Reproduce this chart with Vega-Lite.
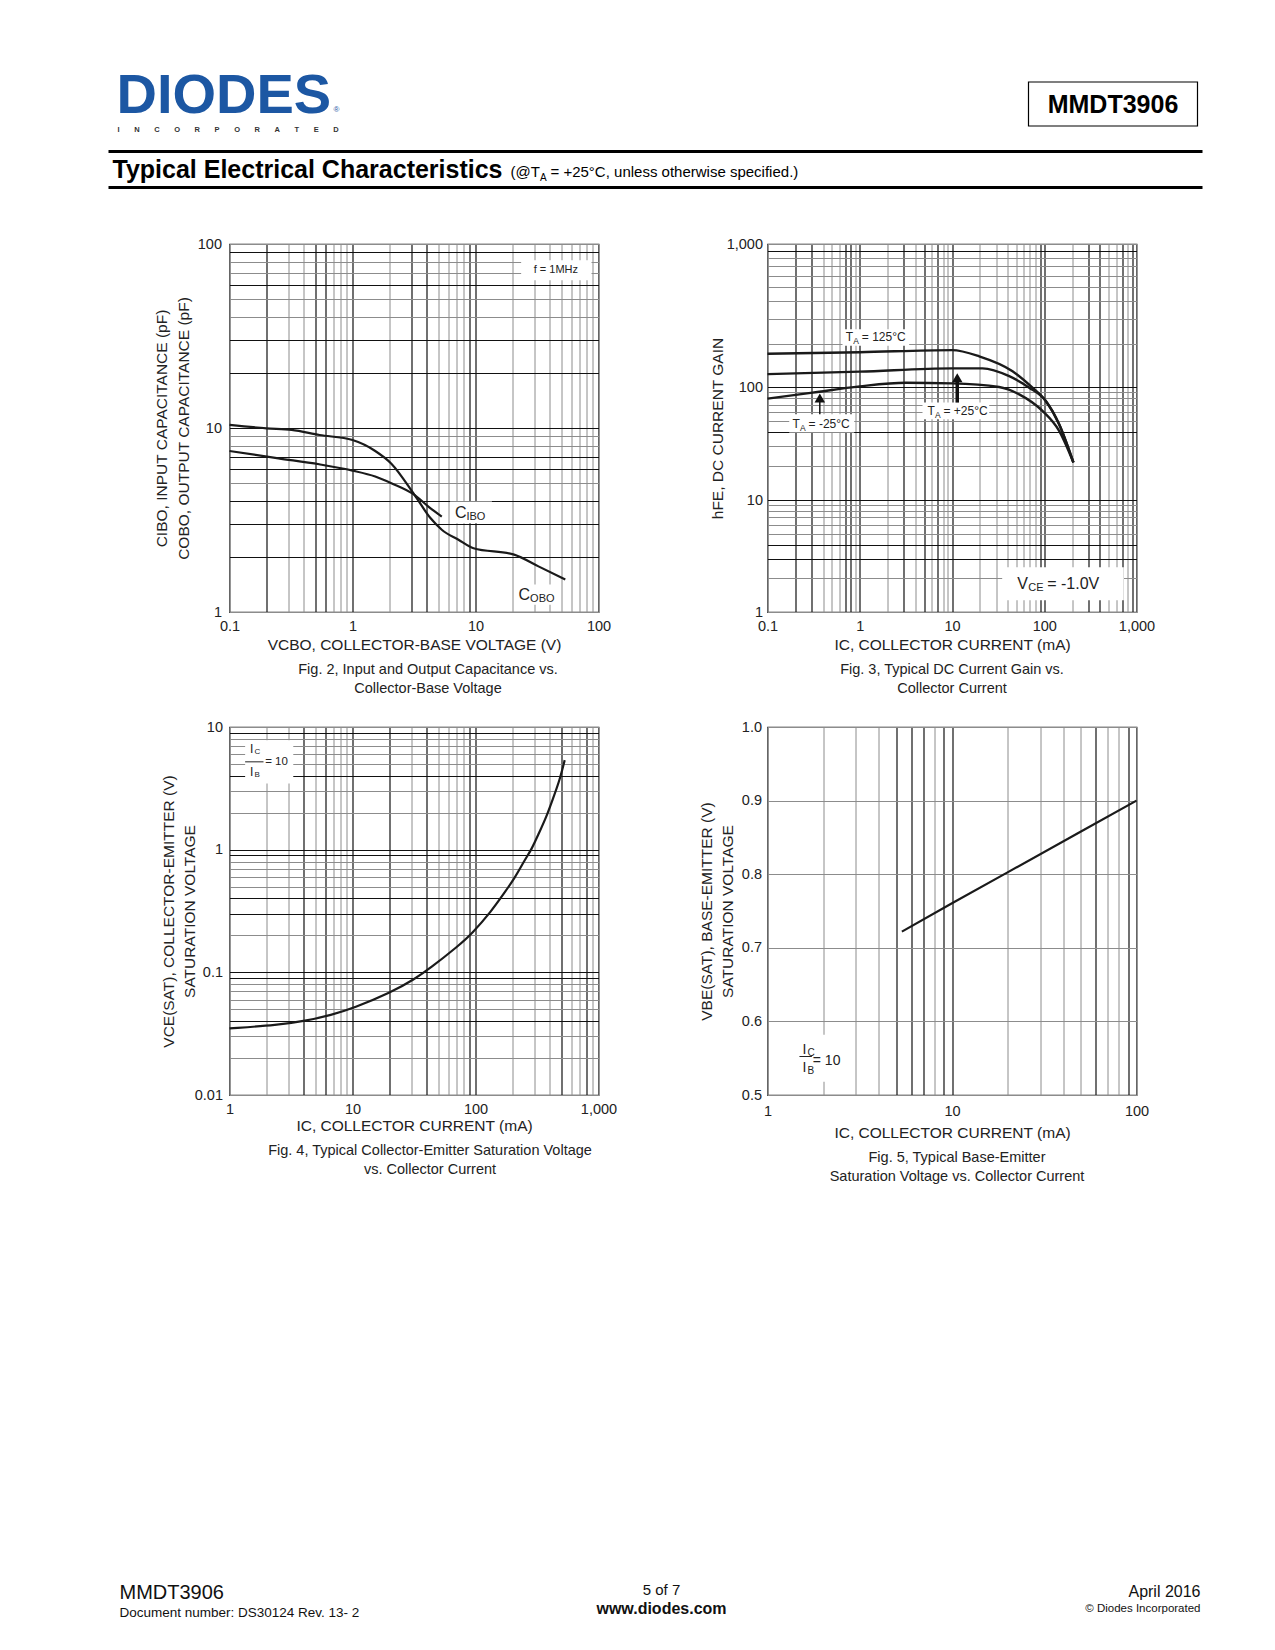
{
  "$schema": "https://vega.github.io/schema/vega-lite/v6.json",
  "background": "white",
  "padding": {"left": 106.5, "top": 50, "right": 70, "bottom": 20},
  "config": {
    "font": "Liberation Sans",
    "view": {"stroke": "#111111", "strokeWidth": 1.2},
    "axis": {"ticks": false, "domain": false, "grid": true, "labelFont": "Liberation Sans", "labelFontSize": 14.5, "labelColor": "#222222", "labelOverlap": false, "labelFlush": false, "labelBound": false, "titleFont": "Liberation Sans", "titleFontSize": 15.5, "titleFontWeight": "normal", "titleColor": "#222222", "gridOpacity": 1},
    "title": {"orient": "bottom", "anchor": "middle", "font": "Liberation Sans", "fontSize": 14.5, "fontWeight": "normal", "color": "#222222", "lineHeight": 18.5, "offset": 10},
    "text": {"color": "#222222", "font": "Liberation Sans"}
  },
  "datasets": {
    "one": [{"k": 1}],
    "fig2": [
      {"curve": "COBO", "v": 0.1, "c": 10.4}, {"curve": "COBO", "v": 0.2, "c": 9.96}, {"curve": "COBO", "v": 0.32, "c": 9.76}, {"curve": "COBO", "v": 0.54, "c": 9.16}, {"curve": "COBO", "v": 1, "c": 8.6}, {"curve": "COBO", "v": 1.53, "c": 7.5}, {"curve": "COBO", "v": 2.07, "c": 6.4}, {"curve": "COBO", "v": 3.19, "c": 4.33}, {"curve": "COBO", "v": 4.3, "c": 3.24}, {"curve": "COBO", "v": 5.32, "c": 2.8}, {"curve": "COBO", "v": 7.27, "c": 2.47}, {"curve": "COBO", "v": 9.64, "c": 2.22}, {"curve": "COBO", "v": 20.6, "c": 2.05}, {"curve": "COBO", "v": 32.5, "c": 1.77}, {"curve": "COBO", "v": 53.7, "c": 1.5},
      {"curve": "CIBO", "v": 0.1, "c": 7.5}, {"curve": "CIBO", "v": 0.25, "c": 6.84}, {"curve": "CIBO", "v": 0.535, "c": 6.35}, {"curve": "CIBO", "v": 1, "c": 5.87}, {"curve": "CIBO", "v": 1.53, "c": 5.45}, {"curve": "CIBO", "v": 2.07, "c": 5.01}, {"curve": "CIBO", "v": 3.19, "c": 4.33}, {"curve": "CIBO", "v": 4.14, "c": 3.74}, {"curve": "CIBO", "v": 5.32, "c": 3.3}
    ],
    "fig3": [
      {"ta": "125", "ic": 0.1, "hfe": 171}, {"ta": "125", "ic": 1, "hfe": 175}, {"ta": "125", "ic": 10, "hfe": 181}, {"ta": "125", "ic": 19.7, "hfe": 164}, {"ta": "125", "ic": 45.3, "hfe": 129}, {"ta": "125", "ic": 74.6, "hfe": 98.7}, {"ta": "125", "ic": 104, "hfe": 75.2}, {"ta": "125", "ic": 145, "hfe": 46.9}, {"ta": "125", "ic": 207, "hfe": 21.5},
      {"ta": "25", "ic": 0.1, "hfe": 123}, {"ta": "25", "ic": 1, "hfe": 128}, {"ta": "25", "ic": 10, "hfe": 135}, {"ta": "25", "ic": 21.4, "hfe": 135}, {"ta": "25", "ic": 41.7, "hfe": 119}, {"ta": "25", "ic": 68.7, "hfe": 98.7}, {"ta": "25", "ic": 104, "hfe": 75.2}, {"ta": "25", "ic": 145, "hfe": 46.9}, {"ta": "25", "ic": 207, "hfe": 21.5},
      {"ta": "-25", "ic": 0.1, "hfe": 78.9}, {"ta": "-25", "ic": 0.308, "hfe": 89.1}, {"ta": "-25", "ic": 1, "hfe": 101}, {"ta": "-25", "ic": 3.16, "hfe": 107}, {"ta": "-25", "ic": 10, "hfe": 106}, {"ta": "-25", "ic": 32.4, "hfe": 100}, {"ta": "-25", "ic": 53.5, "hfe": 86.1}, {"ta": "-25", "ic": 95.7, "hfe": 61.4}, {"ta": "-25", "ic": 145, "hfe": 40.9}, {"ta": "-25", "ic": 207, "hfe": 21.5}
    ],
    "fig4": [
      {"ic": 1, "vce": 0.0349}, {"ic": 2.5, "vce": 0.0372}, {"ic": 4.11, "vce": 0.0401}, {"ic": 6.76, "vce": 0.0449}, {"ic": 10.1, "vce": 0.0508}, {"ic": 20.7, "vce": 0.0686}, {"ic": 32, "vce": 0.0881}, {"ic": 42.6, "vce": 0.1076}, {"ic": 72.4, "vce": 0.164}, {"ic": 93, "vce": 0.205}, {"ic": 135, "vce": 0.316}, {"ic": 168, "vce": 0.431}, {"ic": 209, "vce": 0.589}, {"ic": 252, "vce": 0.83}, {"ic": 285, "vce": 1.0}, {"ic": 323, "vce": 1.32}, {"ic": 378, "vce": 1.86}, {"ic": 427, "vce": 2.62}, {"ic": 484, "vce": 3.7}, {"ic": 531, "vce": 5.37}
    ],
    "fig5": [
      {"ic": 5.35, "vbe": 0.722}, {"ic": 10, "vbe": 0.7605}, {"ic": 20, "vbe": 0.8025}, {"ic": 50, "vbe": 0.858}, {"ic": 100, "vbe": 0.9}
    ]
  },
  "columns": 2,
  "align": "each",
  "bounds": "flush",
  "spacing": {"row": 115, "column": 169},
  "concat": [
    {
      "width": 369, "height": 79,
      "view": {"stroke": null},
      "data": {"name": "one"},
      "layer": [
        {"mark": {"type": "text", "text": "DIODES", "fontSize": 56, "fontWeight": "bold", "color": "#1C57A3", "align": "left", "baseline": "alphabetic"},
         "encoding": {"x": {"datum": 116, "type": "quantitative", "scale": {"domain": [229, 598], "nice": false, "zero": false}, "axis": null}, "y": {"datum": 113, "type": "quantitative", "scale": {"domain": [50, 129], "reverse": true, "nice": false, "zero": false}, "axis": null}}},
        {"mark": {"type": "text", "text": "®", "fontSize": 8, "color": "#1C57A3", "align": "left", "baseline": "alphabetic"},
         "encoding": {"x": {"datum": 333, "axis": null}, "y": {"datum": 112, "axis": null}}},
        {"mark": {"type": "text", "text": "I\u00a0\u00a0\u00a0\u00a0\u00a0\u00a0\u00a0N\u00a0\u00a0\u00a0\u00a0\u00a0\u00a0\u00a0C\u00a0\u00a0\u00a0\u00a0\u00a0\u00a0\u00a0O\u00a0\u00a0\u00a0\u00a0\u00a0\u00a0\u00a0R\u00a0\u00a0\u00a0\u00a0\u00a0\u00a0\u00a0P\u00a0\u00a0\u00a0\u00a0\u00a0\u00a0\u00a0O\u00a0\u00a0\u00a0\u00a0\u00a0\u00a0\u00a0R\u00a0\u00a0\u00a0\u00a0\u00a0\u00a0\u00a0A\u00a0\u00a0\u00a0\u00a0\u00a0\u00a0\u00a0T\u00a0\u00a0\u00a0\u00a0\u00a0\u00a0\u00a0E\u00a0\u00a0\u00a0\u00a0\u00a0\u00a0\u00a0D", "fontSize": 7.5, "fontWeight": "bold", "color": "#333333", "align": "left", "baseline": "alphabetic"},
         "encoding": {"x": {"datum": 117, "axis": null}, "y": {"datum": 132, "axis": null}}},
        {"mark": {"type": "rule", "strokeWidth": 3, "color": "#000000"},
         "encoding": {"x": {"datum": 108, "axis": null}, "x2": {"datum": 1202}, "y": {"datum": 151.5, "axis": null}}},
        {"mark": {"type": "text", "text": "Typical Electrical Characteristics", "fontSize": 25, "fontWeight": "bold", "color": "#000000", "align": "left", "baseline": "alphabetic"},
         "encoding": {"x": {"datum": 112, "axis": null}, "y": {"datum": 178, "axis": null}}},
        {"mark": {"type": "text", "text": "(@T", "fontSize": 15, "color": "#000000", "align": "left", "baseline": "alphabetic"},
         "encoding": {"x": {"datum": 510, "axis": null}, "y": {"datum": 177, "axis": null}}},
        {"mark": {"type": "text", "text": "A", "fontSize": 10, "color": "#000000", "align": "left", "baseline": "alphabetic"},
         "encoding": {"x": {"datum": 539.5, "axis": null}, "y": {"datum": 180.5, "axis": null}}},
        {"mark": {"type": "text", "text": "= +25°C, unless otherwise specified.)", "fontSize": 15, "color": "#000000", "align": "left", "baseline": "alphabetic"},
         "encoding": {"x": {"datum": 550, "axis": null}, "y": {"datum": 177, "axis": null}}},
        {"mark": {"type": "rule", "strokeWidth": 3, "color": "#000000"},
         "encoding": {"x": {"datum": 108, "axis": null}, "x2": {"datum": 1202}, "y": {"datum": 187.5, "axis": null}}}
      ]
    },
    {
      "width": 369, "height": 79,
      "view": {"stroke": null},
      "data": {"name": "one"},
      "layer": [
        {"mark": {"type": "rect", "fill": "white", "stroke": "#000000", "strokeWidth": 1.2},
         "encoding": {"x": {"datum": 1028, "type": "quantitative", "scale": {"domain": [767, 1136], "nice": false, "zero": false}, "axis": null}, "x2": {"datum": 1197}, "y": {"datum": 82, "type": "quantitative", "scale": {"domain": [50, 129], "reverse": true, "nice": false, "zero": false}, "axis": null}, "y2": {"datum": 126}}},
        {"mark": {"type": "text", "text": "MMDT3906", "fontSize": 25, "fontWeight": "bold", "color": "#000000", "align": "center", "baseline": "middle"},
         "encoding": {"x": {"datum": 1112.5, "axis": null}, "y": {"datum": 105, "axis": null}}}
      ]
    },
    {
      "width": 369, "height": 368,
      "title": {"text": ["Fig. 2, Input and Output Capacitance vs.", "Collector-Base Voltage"], "dx": 14},
      "layer": [
        {"data": {"name": "fig2"},
         "mark": {"type": "line", "color": "#1a1a1a", "strokeWidth": 2.2, "interpolate": "monotone"},
         "encoding": {
           "x": {"field": "v", "type": "quantitative", "scale": {"type": "log", "domain": [0.1, 100], "nice": false},
                 "axis": {"title": "VCBO, COLLECTOR-BASE VOLTAGE (V)", "values": [0.1,0.2,0.3,0.4,0.5,0.6,0.7,0.8,0.9,1,2,3,4,5,6,7,8,9,10,20,30,40,50,60,70,80,90,100], "format": ",~g",
                          "labelExpr": "indexof([0.1,1,10,100], datum.value) >= 0 ? datum.label : ''",
                          "gridColor": {"condition": {"test": "indexof([0.2,0.5,0.6,1,3,4,9,10], datum.value) >= 0", "value": "#111111"}, "value": "#8c8c8c"},
                          "gridWidth": {"condition": {"test": "indexof([0.2,0.5,0.6,1,3,4,9,10], datum.value) >= 0", "value": 1.2}, "value": 1},
                          "labelPadding": 7, "titlePadding": 5}},
           "y": {"field": "c", "type": "quantitative", "scale": {"type": "log", "domain": [1, 100], "nice": false},
                 "axis": {"title": ["CIBO, INPUT CAPACITANCE (pF)", "COBO, OUTPUT CAPACITANCE (pF)"], "titleLineHeight": 22, "values": [1,2,3,4,5,6,7,8,9,10,20,30,40,50,60,70,80,90,100], "format": ",~g",
                          "labelExpr": "indexof([1,10,100], datum.value) >= 0 ? datum.label : ''",
                          "gridColor": {"condition": {"test": "indexof([2,3,4,6,7,10,20,30,60,90], datum.value) >= 0", "value": "#111111"}, "value": "#8c8c8c"},
                          "gridWidth": {"condition": {"test": "indexof([2,3,4,6,7,10,20,30,60,90], datum.value) >= 0", "value": 1.2}, "value": 1},
                          "labelPadding": 8, "titlePadding": 6}},
           "detail": {"field": "curve", "type": "nominal"}
         }},
        {"data": {"name": "one"}, "mark": {"type": "rect", "fill": "white"}, "encoding": {"x": {"datum": 23.5}, "x2": {"datum": 87.7}, "y": {"datum": 63.5}, "y2": {"datum": 81.6}}},
        {"data": {"name": "one"}, "mark": {"type": "text", "text": "f = 1MHz", "fontSize": 11, "align": "center", "baseline": "middle"}, "encoding": {"x": {"datum": 45}, "y": {"datum": 72}}},
        {"data": {"name": "one"}, "mark": {"type": "rect", "fill": "white"}, "encoding": {"x": {"datum": 6.21}, "x2": {"datum": 13.6}, "y": {"datum": 3.04}, "y2": {"datum": 3.98}}},
        {"data": {"name": "one"}, "mark": {"type": "text", "text": "C", "fontSize": 16, "align": "left", "baseline": "middle"}, "encoding": {"x": {"datum": 6.8}, "y": {"datum": 3.44}}},
        {"data": {"name": "one"}, "mark": {"type": "text", "text": "IBO", "fontSize": 11, "align": "left", "baseline": "middle", "dx": 11.5, "dy": 4}, "encoding": {"x": {"datum": 6.8}, "y": {"datum": 3.44}}},
        {"data": {"name": "one"}, "mark": {"type": "rect", "fill": "white"}, "encoding": {"x": {"datum": 21}, "x2": {"datum": 45}, "y": {"datum": 1.096}, "y2": {"datum": 1.41}}},
        {"data": {"name": "one"}, "mark": {"type": "text", "text": "C", "fontSize": 16, "align": "left", "baseline": "middle"}, "encoding": {"x": {"datum": 22.4}, "y": {"datum": 1.24}}},
        {"data": {"name": "one"}, "mark": {"type": "text", "text": "OBO", "fontSize": 11, "align": "left", "baseline": "middle", "dx": 11.5, "dy": 4}, "encoding": {"x": {"datum": 22.4}, "y": {"datum": 1.24}}}
      ]
    },
    {
      "width": 369, "height": 368,
      "title": {"text": ["Fig. 3, Typical DC Current Gain vs.", "Collector Current"]},
      "layer": [
        {"data": {"name": "fig3"},
         "mark": {"type": "line", "color": "#1a1a1a", "strokeWidth": 2.4, "interpolate": "monotone"},
         "encoding": {
           "x": {"field": "ic", "type": "quantitative", "scale": {"type": "log", "domain": [0.1, 1000], "nice": false},
                 "axis": {"title": "IC, COLLECTOR CURRENT (mA)", "values": [0.1,0.2,0.3,0.4,0.5,0.6,0.7,0.8,0.9,1,2,3,4,5,6,7,8,9,10,20,30,40,50,60,70,80,90,100,200,300,400,500,600,700,800,900,1000], "format": ",~g",
                          "labelExpr": "indexof([0.1,1,10,100,1000], datum.value) >= 0 ? datum.label : ''",
                          "gridColor": {"condition": {"test": "indexof([0.2,0.3,0.7,0.8,1,3,5,7,10,90,100,300,400,700,900], datum.value) >= 0", "value": "#111111"}, "value": "#8c8c8c"},
                          "gridWidth": {"condition": {"test": "indexof([0.2,0.3,0.7,0.8,1,3,5,7,10,90,100,300,400,700,900], datum.value) >= 0", "value": 1.2}, "value": 1},
                          "labelPadding": 7, "titlePadding": 5}},
           "y": {"field": "hfe", "type": "quantitative", "scale": {"type": "log", "domain": [1, 10, 100, 1000], "range": [368, 256, 143, 0], "nice": false},
                 "axis": {"title": "hFE, DC CURRENT GAIN", "values": [1,2,3,4,5,6,7,8,9,10,20,30,40,50,60,70,80,90,100,200,300,400,500,600,700,800,900,1000], "format": ",~g",
                          "labelExpr": "indexof([1,10,100,1000], datum.value) >= 0 ? datum.label : ''",
                          "gridColor": {"condition": {"test": "indexof([3,4,10,40,100,900], datum.value) >= 0", "value": "#111111"}, "value": "#8c8c8c"},
                          "gridWidth": {"condition": {"test": "indexof([3,4,10,40,100,900], datum.value) >= 0", "value": 1.2}, "value": 1},
                          "labelPadding": 5, "titlePadding": 1}},
           "detail": {"field": "ta", "type": "nominal"}
         }},
        {"data": {"name": "one"}, "mark": {"type": "rect", "fill": "white"}, "encoding": {"x": {"datum": 0.65}, "x2": {"datum": 3.43}, "y": {"datum": 194}, "y2": {"datum": 253}}},
        {"data": {"name": "one"}, "mark": {"type": "text", "text": "T", "fontSize": 12, "align": "left", "baseline": "middle"}, "encoding": {"x": {"datum": 0.706}, "y": {"datum": 222}}},
        {"data": {"name": "one"}, "mark": {"type": "text", "text": "A", "fontSize": 8.5, "align": "left", "baseline": "middle", "dx": 7.5, "dy": 4}, "encoding": {"x": {"datum": 0.706}, "y": {"datum": 222}}},
        {"data": {"name": "one"}, "mark": {"type": "text", "text": "= 125°C", "fontSize": 12, "align": "left", "baseline": "middle", "dx": 16}, "encoding": {"x": {"datum": 0.706}, "y": {"datum": 222}}},
        {"data": {"name": "one"}, "mark": {"type": "rect", "fill": "white"}, "encoding": {"x": {"datum": 4.79}, "x2": {"datum": 25.3}, "y": {"datum": 51.9}, "y2": {"datum": 72.8}}},
        {"data": {"name": "one"}, "mark": {"type": "text", "text": "T", "fontSize": 12, "align": "left", "baseline": "middle"}, "encoding": {"x": {"datum": 5.42}, "y": {"datum": 61.4}}},
        {"data": {"name": "one"}, "mark": {"type": "text", "text": "A", "fontSize": 8.5, "align": "left", "baseline": "middle", "dx": 7.5, "dy": 4}, "encoding": {"x": {"datum": 5.42}, "y": {"datum": 61.4}}},
        {"data": {"name": "one"}, "mark": {"type": "text", "text": "= +25°C", "fontSize": 12, "align": "left", "baseline": "middle", "dx": 16}, "encoding": {"x": {"datum": 5.42}, "y": {"datum": 61.4}}},
        {"data": {"name": "one"}, "mark": {"type": "rect", "fill": "white"}, "encoding": {"x": {"datum": 0.172}, "x2": {"datum": 0.87}, "y": {"datum": 39.5}, "y2": {"datum": 57.4}}},
        {"data": {"name": "one"}, "mark": {"type": "text", "text": "T", "fontSize": 12, "align": "left", "baseline": "middle"}, "encoding": {"x": {"datum": 0.187}, "y": {"datum": 47.4}}},
        {"data": {"name": "one"}, "mark": {"type": "text", "text": "A", "fontSize": 8.5, "align": "left", "baseline": "middle", "dx": 7.5, "dy": 4}, "encoding": {"x": {"datum": 0.187}, "y": {"datum": 47.4}}},
        {"data": {"name": "one"}, "mark": {"type": "text", "text": "= -25°C", "fontSize": 12, "align": "left", "baseline": "middle", "dx": 16}, "encoding": {"x": {"datum": 0.187}, "y": {"datum": 47.4}}},
        {"data": {"name": "one"}, "mark": {"type": "rule", "color": "#111111", "strokeWidth": 1.5}, "encoding": {"x": {"datum": 0.369}, "y": {"datum": 57.4}, "y2": {"datum": 78}}},
        {"data": {"name": "one"}, "mark": {"type": "point", "shape": "triangle-up", "size": 110, "filled": true, "color": "#111111", "opacity": 1}, "encoding": {"x": {"datum": 0.369}, "y": {"datum": 80}}},
        {"data": {"name": "one"}, "mark": {"type": "rule", "color": "#111111", "strokeWidth": 3.5}, "encoding": {"x": {"datum": 11.4}, "y": {"datum": 72.8}, "y2": {"datum": 112}}},
        {"data": {"name": "one"}, "mark": {"type": "point", "shape": "triangle-up", "size": 110, "filled": true, "color": "#111111", "opacity": 1}, "encoding": {"x": {"datum": 11.4}, "y": {"datum": 116}}},
        {"data": {"name": "one"}, "mark": {"type": "rect", "fill": "white"}, "encoding": {"x": {"datum": 35}, "x2": {"datum": 728}, "y": {"datum": 1.27}, "y2": {"datum": 2.51}}},
        {"data": {"name": "one"}, "mark": {"type": "text", "text": "V", "fontSize": 16, "align": "left", "baseline": "middle"}, "encoding": {"x": {"datum": 50.9}, "y": {"datum": 1.79}}},
        {"data": {"name": "one"}, "mark": {"type": "text", "text": "CE", "fontSize": 11, "align": "left", "baseline": "middle", "dx": 11, "dy": 4}, "encoding": {"x": {"datum": 50.9}, "y": {"datum": 1.79}}},
        {"data": {"name": "one"}, "mark": {"type": "text", "text": "= -1.0V", "fontSize": 16, "align": "left", "baseline": "middle", "dx": 30}, "encoding": {"x": {"datum": 50.9}, "y": {"datum": 1.79}}}
      ]
    },
    {
      "width": 369, "height": 368,
      "title": {"text": ["Fig. 4, Typical Collector-Emitter Saturation Voltage", "vs. Collector Current"], "dx": 16},
      "layer": [
        {"data": {"name": "fig4"},
         "mark": {"type": "line", "color": "#1a1a1a", "strokeWidth": 2.2, "interpolate": "basis"},
         "encoding": {
           "x": {"field": "ic", "type": "quantitative", "scale": {"type": "log", "domain": [1, 1000], "nice": false},
                 "axis": {"title": "IC, COLLECTOR CURRENT (mA)", "values": [1,2,3,4,5,6,7,8,9,10,20,30,40,50,60,70,80,90,100,200,300,400,500,600,700,800,900,1000], "format": ",~g",
                          "labelExpr": "indexof([1,10,100,1000], datum.value) >= 0 ? datum.label : ''",
                          "gridColor": {"condition": {"test": "indexof([4,6,10,20,40,90,100,500,800], datum.value) >= 0", "value": "#111111"}, "value": "#8c8c8c"},
                          "gridWidth": {"condition": {"test": "indexof([4,6,10,20,40,90,100,500,800], datum.value) >= 0", "value": 1.2}, "value": 1},
                          "labelPadding": 7, "titlePadding": 3}},
           "y": {"field": "vce", "type": "quantitative", "scale": {"type": "log", "domain": [0.01, 10], "nice": false},
                 "axis": {"title": ["VCE(SAT), COLLECTOR-EMITTER (V)", "SATURATION VOLTAGE"], "titleLineHeight": 21, "values": [0.01,0.02,0.03,0.04,0.05,0.06,0.07,0.08,0.09,0.1,0.2,0.3,0.4,0.5,0.6,0.7,0.8,0.9,1,2,3,4,5,6,7,8,9,10], "format": ",~g",
                          "labelExpr": "indexof([0.01,0.1,1,10], datum.value) >= 0 ? datum.label : ''",
                          "gridColor": {"condition": {"test": "indexof([0.04,0.09,0.1,0.3,0.4,0.9,1,4,9], datum.value) >= 0", "value": "#111111"}, "value": "#8c8c8c"},
                          "gridWidth": {"condition": {"test": "indexof([0.04,0.09,0.1,0.3,0.4,0.9,1,4,9], datum.value) >= 0", "value": 1.2}, "value": 1},
                          "labelPadding": 7, "titlePadding": -3}}
         }},
        {"data": {"name": "one"}, "mark": {"type": "rect", "fill": "white"}, "encoding": {"x": {"datum": 1.34}, "x2": {"datum": 3.3}, "y": {"datum": 3.47}, "y2": {"datum": 7.8}}},
        {"data": {"name": "one"}, "mark": {"type": "text", "text": "I", "fontSize": 12, "align": "left", "baseline": "middle"}, "encoding": {"x": {"datum": 1.47}, "y": {"datum": 6.67}}},
        {"data": {"name": "one"}, "mark": {"type": "text", "text": "C", "fontSize": 8, "align": "left", "baseline": "middle", "dx": 4.5, "dy": 3}, "encoding": {"x": {"datum": 1.47}, "y": {"datum": 6.67}}},
        {"data": {"name": "one"}, "mark": {"type": "rule", "color": "#222222", "strokeWidth": 1}, "encoding": {"x": {"datum": 1.34}, "x2": {"datum": 1.89}, "y": {"datum": 5.2}}},
        {"data": {"name": "one"}, "mark": {"type": "text", "text": "I", "fontSize": 12, "align": "left", "baseline": "middle"}, "encoding": {"x": {"datum": 1.47}, "y": {"datum": 4.32}}},
        {"data": {"name": "one"}, "mark": {"type": "text", "text": "B", "fontSize": 8, "align": "left", "baseline": "middle", "dx": 4.5, "dy": 3}, "encoding": {"x": {"datum": 1.47}, "y": {"datum": 4.32}}},
        {"data": {"name": "one"}, "mark": {"type": "text", "text": "= 10", "fontSize": 11.5, "align": "left", "baseline": "middle"}, "encoding": {"x": {"datum": 1.95}, "y": {"datum": 5.2}}}
      ]
    },
    {
      "width": 369, "height": 368,
      "title": {"text": ["Fig. 5, Typical Base-Emitter", "Saturation Voltage vs. Collector Current"], "dx": 5},
      "layer": [
        {"data": {"name": "fig5"},
         "mark": {"type": "line", "color": "#1a1a1a", "strokeWidth": 2.2},
         "encoding": {
           "x": {"field": "ic", "type": "quantitative", "scale": {"type": "log", "domain": [1, 100], "nice": false},
                 "axis": {"title": "IC, COLLECTOR CURRENT (mA)", "values": [1,2,3,4,5,6,7,8,9,10,20,30,40,50,60,70,80,90,100], "format": ",~g",
                          "labelExpr": "indexof([1,10,100], datum.value) >= 0 ? datum.label : ''",
                          "gridColor": {"condition": {"test": "indexof([5,6,7,9,10,60,90], datum.value) >= 0", "value": "#111111"}, "value": "#8c8c8c"},
                          "gridWidth": {"condition": {"test": "indexof([5,6,7,9,10,60,90], datum.value) >= 0", "value": 1.2}, "value": 1},
                          "labelPadding": 9, "titlePadding": 8}},
           "y": {"field": "vbe", "type": "quantitative", "scale": {"domain": [0.5, 1.0], "nice": false, "zero": false},
                 "axis": {"title": ["VBE(SAT), BASE-EMITTER (V)", "SATURATION VOLTAGE"], "titleLineHeight": 21, "values": [0.5,0.6,0.7,0.8,0.9,1.0], "format": ".1f",
                          "gridColor": "#8c8c8c", "gridWidth": 1,
                          "labelPadding": 6, "titlePadding": 6}}
         }},
        {"data": {"name": "one"}, "mark": {"type": "rect", "fill": "white"}, "encoding": {"x": {"datum": 1.37}, "x2": {"datum": 2.1}, "y": {"datum": 0.518}, "y2": {"datum": 0.582}}},
        {"data": {"name": "one"}, "mark": {"type": "text", "text": "I", "fontSize": 14, "align": "left", "baseline": "middle"}, "encoding": {"x": {"datum": 1.55}, "y": {"datum": 0.5615}}},
        {"data": {"name": "one"}, "mark": {"type": "text", "text": "C", "fontSize": 10, "align": "left", "baseline": "middle", "dx": 5, "dy": 3}, "encoding": {"x": {"datum": 1.55}, "y": {"datum": 0.5615}}},
        {"data": {"name": "one"}, "mark": {"type": "rule", "color": "#222222", "strokeWidth": 1}, "encoding": {"x": {"datum": 1.49}, "x2": {"datum": 1.74}, "y": {"datum": 0.5523}}},
        {"data": {"name": "one"}, "mark": {"type": "text", "text": "I", "fontSize": 14, "align": "left", "baseline": "middle"}, "encoding": {"x": {"datum": 1.55}, "y": {"datum": 0.5369}}},
        {"data": {"name": "one"}, "mark": {"type": "text", "text": "B", "fontSize": 10, "align": "left", "baseline": "middle", "dx": 5, "dy": 3}, "encoding": {"x": {"datum": 1.55}, "y": {"datum": 0.5369}}},
        {"data": {"name": "one"}, "mark": {"type": "text", "text": "= 10", "fontSize": 14, "align": "left", "baseline": "middle"}, "encoding": {"x": {"datum": 1.76}, "y": {"datum": 0.5464}}}
      ]
    },
    {
      "width": 369, "height": 420,
      "view": {"stroke": null},
      "data": {"name": "one"},
      "layer": [
        {"mark": {"type": "text", "text": "MMDT3906", "fontSize": 20, "color": "#111111", "align": "left", "baseline": "alphabetic"},
         "encoding": {"x": {"datum": 119, "type": "quantitative", "scale": {"domain": [229, 598], "nice": false, "zero": false}, "axis": null}, "y": {"datum": 1599, "type": "quantitative", "scale": {"domain": [1210, 1630], "reverse": true, "nice": false, "zero": false}, "axis": null}}},
        {"mark": {"type": "text", "text": "Document number: DS30124 Rev. 13- 2", "fontSize": 13.5, "color": "#111111", "align": "left", "baseline": "alphabetic"},
         "encoding": {"x": {"datum": 119, "axis": null}, "y": {"datum": 1617, "axis": null}}},
        {"mark": {"type": "text", "text": "5 of 7", "fontSize": 15, "color": "#111111", "align": "center", "baseline": "alphabetic"},
         "encoding": {"x": {"datum": 661, "axis": null}, "y": {"datum": 1595, "axis": null}}},
        {"mark": {"type": "text", "text": "www.diodes.com", "fontSize": 16, "fontWeight": "bold", "color": "#111111", "align": "center", "baseline": "alphabetic"},
         "encoding": {"x": {"datum": 661, "axis": null}, "y": {"datum": 1614, "axis": null}}}
      ]
    },
    {
      "width": 369, "height": 420,
      "view": {"stroke": null},
      "data": {"name": "one"},
      "layer": [
        {"mark": {"type": "text", "text": "April 2016", "fontSize": 16, "color": "#111111", "align": "right", "baseline": "alphabetic"},
         "encoding": {"x": {"datum": 1200, "type": "quantitative", "scale": {"domain": [767, 1136], "nice": false, "zero": false}, "axis": null}, "y": {"datum": 1597, "type": "quantitative", "scale": {"domain": [1210, 1630], "reverse": true, "nice": false, "zero": false}, "axis": null}}},
        {"mark": {"type": "text", "text": "© Diodes Incorporated", "fontSize": 11.5, "color": "#111111", "align": "right", "baseline": "alphabetic"},
         "encoding": {"x": {"datum": 1200, "axis": null}, "y": {"datum": 1612, "axis": null}}}
      ]
    }
  ]
}
